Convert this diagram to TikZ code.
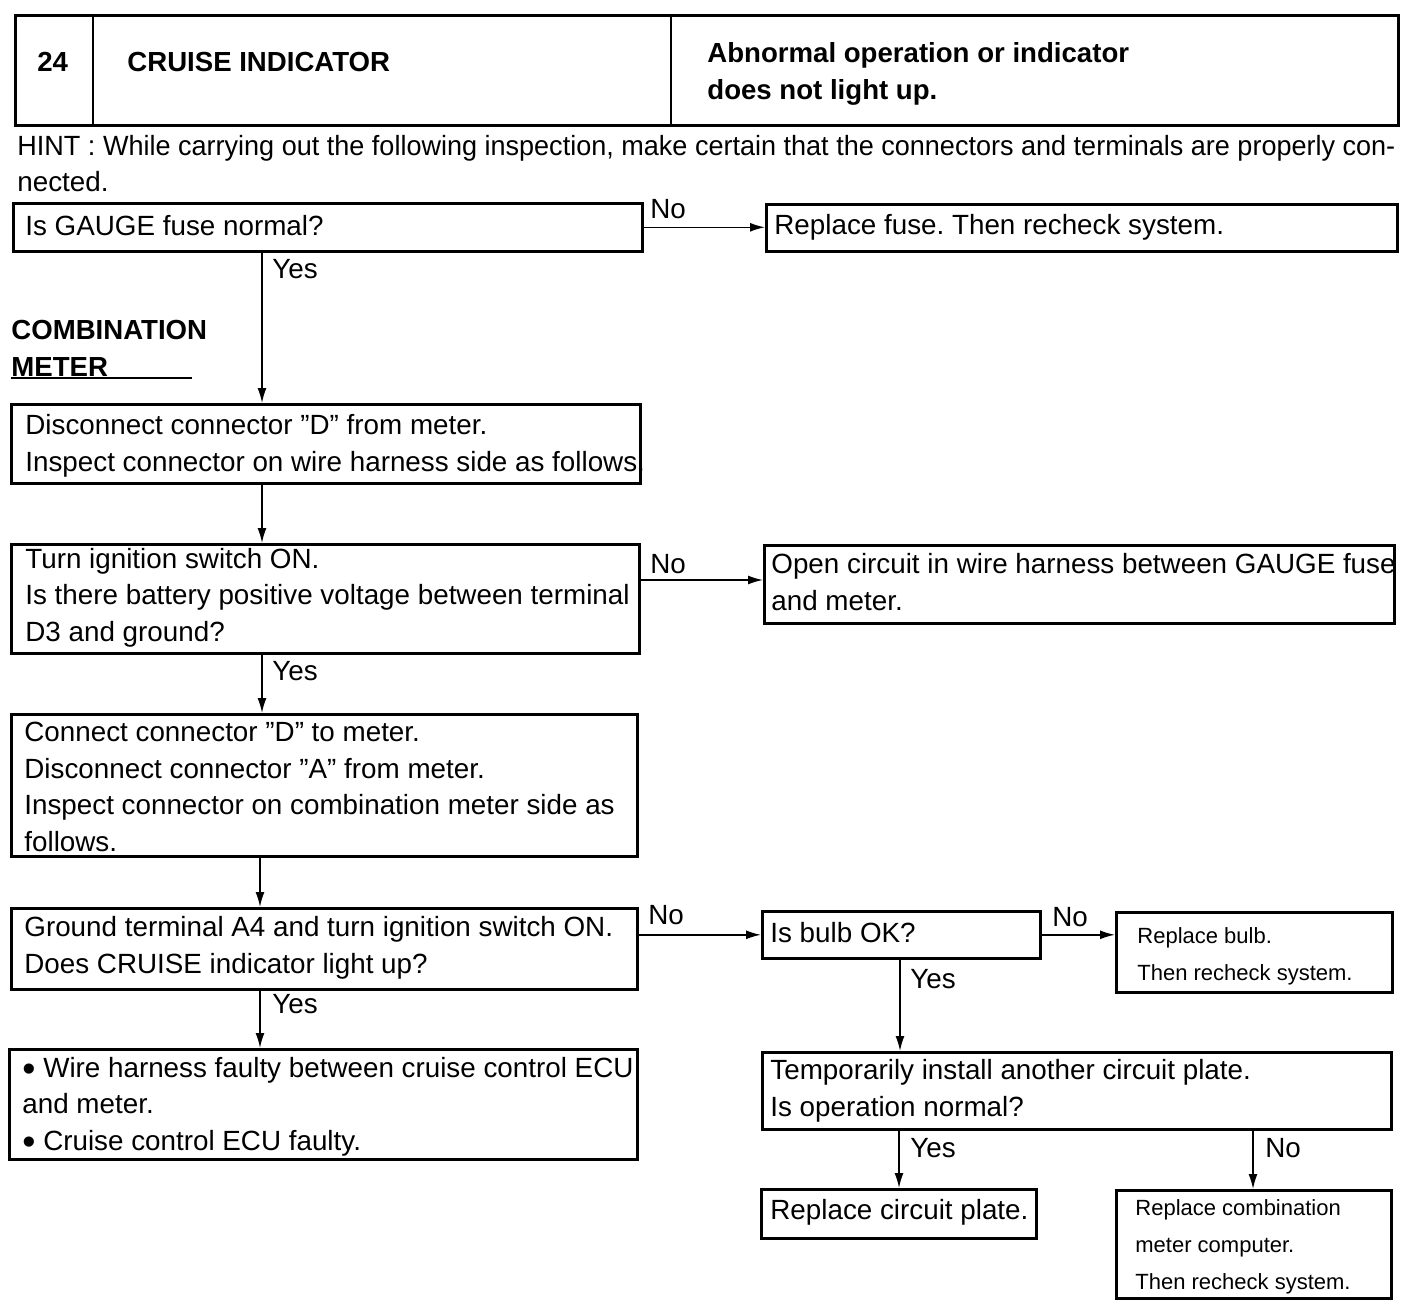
\documentclass[tikz,border=0pt]{standalone}
\usepackage{fontspec}
\setmainfont{Liberation Sans}
\usetikzlibrary{arrows.meta}
\newcommand{\bigbul}{\raisebox{-0.28ex}{\scalebox{1.35}{\textbullet}}}
\begin{document}
\frenchspacing
\begin{tikzpicture}[x=0.5pt,y=-0.5pt,
 box/.style={draw, line width=1.3pt, inner sep=0pt, anchor=north west},
 txt/.style={inner sep=0pt, anchor=base west, align=left, font=\fontsize{13.9}{18.25}\selectfont},
 small/.style={inner sep=0pt, anchor=base west, align=left, font=\fontsize{11}{18.3}\selectfont},
 lbl/.style={inner sep=0pt, anchor=base west, font=\fontsize{13.9}{16}\selectfont},
 bld/.style={inner sep=0pt, anchor=base west, align=left, font=\bfseries\fontsize{13.8}{18.5}\selectfont},
 arr/.style={line width=0.8pt, -{Latex[length=7.5pt,width=4.5pt]}}]
\useasboundingbox (0,0) rectangle (1408,1306);

% header
\node[box, minimum width=691.5pt, minimum height=55pt] (hdr) at (14,14) {};
\draw[line width=1.3pt] ([xshift=39.5pt]hdr.north west) -- ([xshift=39.5pt]hdr.south west);
\draw[line width=1.3pt] ([xshift=328.5pt]hdr.north west) -- ([xshift=328.5pt]hdr.south west);
\node[bld] (num) at (37,71) {24};
\node[bld] (ttl) at (127,71) {CRUISE INDICATOR};
\node[bld] (sym) at (707,99) {Abnormal operation or indicator\\does not light up.};

% hint
\node[txt] (hint1) at (17,155) {\resizebox{689pt}{\height}{HINT : While carrying out the following inspection, make certain that the connectors and terminals are properly con-}};
\node[txt] (hint2) at (17,191) {nected.};

% boxes
\node[box, minimum width=314.5pt, minimum height=24pt] (b1) at (12,202) {};
\node[txt] (t1) at (25,235) {Is GAUGE fuse normal?};
\node[box, minimum width=315.5pt, minimum height=23.5pt] (b2) at (765,203) {};
\node[txt] (t2) at (774,234) {Replace fuse. Then recheck system.};

\node[bld] (cm) at (11,376) {COMBINATION\\METER};
\draw[line width=1pt] ([yshift=-1pt]cm.south west) -- ++(90.5pt,0);

\node[box, minimum width=314.5pt, minimum height=39.5pt] (b3) at (10,403) {};
\node[txt] (t3) at (25,471) {Disconnect connector "D" from meter.\\Inspect connector on wire harness side as follows.};

\node[box, minimum width=314pt, minimum height=54.5pt] (b4) at (10,543) {};
\node[txt] (t4) at (25,641) {Turn ignition switch ON.\\Is there battery positive voltage between terminal\\D3 and ground?};

\node[box, minimum width=315pt, minimum height=39pt] (b5) at (763,544) {};
\node[txt] (t5) at (771,610) {Open circuit in wire harness between GAUGE fuse\\and meter.};

\node[box, minimum width=313pt, minimum height=71pt] (b6) at (10,713) {};
\node[txt] (t6) at (24,851) {Connect connector "D" to meter.\\Disconnect connector "A" from meter.\\Inspect connector on combination meter side as\\follows.};

\node[box, minimum width=313pt, minimum height=40.5pt] (b7) at (10,907) {};
\node[txt] (t7) at (24,973) {Ground terminal A4 and turn ignition switch ON.\\Does CRUISE indicator light up?};

\node[box, minimum width=139pt, minimum height=23.5pt] (b8) at (761,910) {};
\node[txt] (t8) at (770,942) {Is bulb OK?};

\node[box, minimum width=138pt, minimum height=40pt] (b9) at (1115,911) {};
\node[small] (t9) at (1137,980) {Replace bulb.\\Then recheck system.};

\node[box, minimum width=314.5pt, minimum height=38.5pt] (b10) at (761,1051) {};
\node[txt] (t10) at (770,1116) {Temporarily install another circuit plate.\\Is operation normal?};

\node[box, minimum width=137.5pt, minimum height=24.5pt] (b11) at (760,1188) {};
\node[txt] (t11) at (770,1219) {Replace circuit plate.};

\node[box, minimum width=137.5pt, minimum height=54pt] (b12) at (1115,1189) {};
\node[small] (t12) at (1135,1289) {Replace combination\\meter computer.\\Then recheck system.};

\node[box, minimum width=314pt, minimum height=55pt] (b13) at (8,1048) {};
\node[txt] (t13) at (22,1150) {\bigbul\ Wire harness faulty between cruise control ECU\\and meter.\\\bigbul\ Cruise control ECU faulty.};

% connectors
\draw[arr] (b1.east) -- (b1.east -| b2.west);
\node[lbl] (n1) at (650,218) {No};

\coordinate (s1) at ([xshift=125pt]b1.south west);
\draw[arr] (s1) -- (s1 |- b3.north);
\node[lbl] (y1) at (272,278) {Yes};

\coordinate (s3) at ([xshift=126pt]b3.south west);
\draw[arr] (s3) -- (s3 |- b4.north);

\coordinate (h4) at ([yshift=-18.5pt]b4.north east);
\draw[arr] (h4) -- (h4 -| b5.west);
\node[lbl] (n4) at (650,573) {No};

\coordinate (s4) at ([xshift=126pt]b4.south west);
\draw[arr] (s4) -- (s4 |- b6.north);
\node[lbl] (y4) at (272,680) {Yes};

\coordinate (s6) at ([xshift=125pt]b6.south west);
\draw[arr] (s6) -- (s6 |- b7.north);

\draw[arr] (b8.west -| b7.east) -- (b8.west);
\node[lbl] (n7) at (648,924) {No};

\coordinate (s7) at ([xshift=125pt]b7.south west);
\draw[arr] (s7) -- (s7 |- b13.north);
\node[lbl] (y7) at (272,1013) {Yes};

\draw[arr] (b8.east) -- (b8.east -| b9.west);
\node[lbl] (n8) at (1052,926) {No};

\coordinate (s8) at ([xshift=69.5pt]b8.south west);
\draw[arr] (s8) -- (s8 |- b10.north);
\node[lbl] (y8) at (910,988) {Yes};

\coordinate (s10a) at ([xshift=69pt]b10.south west);
\draw[arr] (s10a) -- (s10a |- b11.north);
\node[lbl] (y10) at (910,1157) {Yes};

\coordinate (s10b) at ([xshift=246pt]b10.south west);
\draw[arr] (s10b) -- (s10b |- b12.north);
\node[lbl] (n10) at (1265,1157) {No};
\end{tikzpicture}
\end{document}
